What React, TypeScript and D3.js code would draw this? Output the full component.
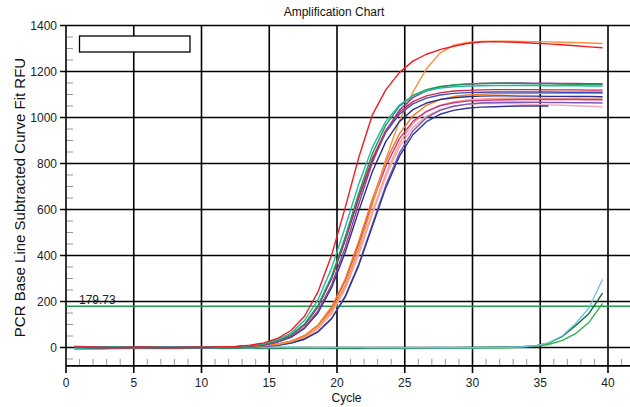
import React from 'react';
import * as d3 from 'd3';

// plotted cycle positions of the points
const CYCLES: number[] = d3.range(0.6, 40, 1);

const X_TICKS = [0, 5, 10, 15, 20, 25, 30, 35, 40];
const Y_TICKS = [0, 200, 400, 600, 800, 1000, 1200, 1400];
const THRESHOLD = 179.73;
const TITLE = 'Amplification Chart';
const X_LABEL = 'Cycle';
const Y_LABEL = 'PCR Base Line Subtracted Curve Fit RFU';

const RED = [2, 1, 0, -1, 0, 1, 0, -1, 0, 1, 1, 3, 5, 10, 20, 39, 74, 136, 242, 401, 607, 825, 1010, 1120, 1195, 1245, 1275, 1295, 1310, 1322, 1328, 1330, 1328, 1326, 1323, 1320, 1316, 1312, 1307, 1303];
const ORANGE_HI = [6, 3, 1, 0, -1, 0, 1, 0, -1, 0, 1, 1, 2, 4, 7, 13, 25, 48, 92, 160, 270, 430, 618, 818, 985, 1110, 1212, 1280, 1314, 1326, 1331, 1332, 1332, 1331, 1330, 1329, 1327, 1326, 1324, 1322];
const TEAL = [-3, -1, 0, 1, 0, -1, 0, 1, 0, 0, 1, 2, 5, 9, 17, 33, 63, 117, 208, 345, 523, 710, 869, 983, 1054, 1094, 1116, 1128, 1134, 1137, 1138, 1139, 1139, 1139, 1139, 1138, 1138, 1138, 1137, 1137];
const GREEN = [0, -1, 0, 1, 0, 0, 1, 0, -1, 0, 1, 2, 4, 8, 15, 29, 55, 102, 183, 309, 480, 670, 841, 967, 1048, 1096, 1121, 1135, 1142, 1146, 1148, 1149, 1149, 1148, 1147, 1146, 1145, 1144, 1143, 1142];
const PURPLE = [1, 0, -1, 0, 1, 0, -1, 0, 0, 1, 1, 2, 3, 7, 13, 24, 47, 87, 159, 273, 434, 623, 802, 940, 1032, 1086, 1116, 1132, 1141, 1145, 1148, 1149, 1150, 1150, 1149, 1149, 1148, 1148, 1147, 1147];
const CRIMSON = [0, 1, 0, -1, 0, 1, 0, 0, -1, 0, 1, 2, 4, 8, 15, 28, 53, 99, 178, 302, 468, 654, 820, 944, 1023, 1069, 1094, 1107, 1115, 1118, 1120, 1121, 1121, 1121, 1121, 1120, 1120, 1120, 1119, 1119];
const BLUE = [-1, 0, 1, 0, -1, 0, 0, 1, 0, -1, 1, 2, 4, 7, 14, 28, 53, 98, 177, 299, 464, 648, 813, 935, 1014, 1059, 1084, 1098, 1105, 1108, 1110, 1111, 1111, 1111, 1111, 1111, 1110, 1110, 1110, 1110];
const NAVY = [0, -1, 0, 1, 0, 0, -1, 0, 1, 0, 1, 2, 3, 6, 12, 23, 44, 83, 151, 260, 413, 593, 763, 895, 982, 1034, 1063, 1078, 1086, 1090, 1093, 1094, 1094, 1093, 1093, 1092, 1092, 1091, 1091, 1090];
const ORANGE = [3, 2, 0, 1, 0, -1, 0, 1, 0, 0, 1, 1, 2, 4, 7, 14, 28, 52, 98, 176, 297, 461, 644, 808, 929, 1007, 1053, 1078, 1091, 1098, 1101, 1103, 1104, 1104, 1105, 1105, 1105, 1105, 1105, 1105];
const MAGENTA = [1, 0, 0, -1, 0, 1, 0, -1, 0, 0, 1, 1, 2, 4, 7, 14, 27, 51, 95, 171, 290, 450, 628, 788, 907, 983, 1027, 1051, 1064, 1071, 1074, 1076, 1077, 1078, 1078, 1078, 1078, 1078, 1077, 1077];
const SALMON = [0, 1, 0, -1, 0, 1, 0, 0, -1, 0, 0, 1, 2, 3, 6, 12, 23, 44, 82, 150, 258, 410, 588, 756, 887, 974, 1025, 1053, 1068, 1076, 1081, 1083, 1084, 1084, 1084, 1084, 1083, 1083, 1082, 1082];
const PINK = [0, 0, 1, 0, -1, 0, 1, 0, 0, -1, 0, 1, 2, 3, 6, 12, 23, 43, 81, 147, 253, 402, 577, 742, 871, 956, 1006, 1034, 1049, 1057, 1061, 1062, 1061, 1059, 1057, 1055, 1053, 1051, 1049, 1047];
const VIOLET = [0, 1, 0, -1, 0, 0, 1, 0, -1, 0, 0, 1, 1, 3, 5, 10, 19, 37, 69, 127, 223, 362, 534, 706, 845, 941, 999, 1031, 1049, 1058, 1063, 1065, 1066, 1066, 1066, 1065, 1065, 1064, 1064, 1063];
const NAVY_LOW: (number | null)[] = [-1, 0, 1, 0, -1, 0, 0, 1, -1, 0, 0, 1, 1, 3, 5, 10, 19, 36, 68, 125, 219, 356, 525, 694, 831, 925, 982, 1014, 1031, 1040, 1045, 1047, 1049, 1050, 1050, 1050, null, null, null, null];
const CYAN_LATE = [1, 0, -1, 0, 0, 1, 0, -1, 0, 0, 0, 1, 0, -1, 0, 0, 1, 0, -1, 0, 0, 0, -1, -1, 0, -1, -1, 0, -1, 0, -1, 0, 1, 3, 7, 20, 50, 103, 172, 297];
const DKGREEN_LATE = [-5, -4, -5, -3, -4, -3, -2, -3, -2, -2, -2, -1, -2, -1, -2, -3, -2, -2, -1, -2, -2, -3, -2, -2, -1, -2, -2, -1, -1, 0, 0, 1, 2, 3, 7, 19, 47, 95, 148, 236];
const GREEN_LATE = [-6, -5, -6, -5, -5, -4, -5, -4, -5, -4, -4, -5, -4, -4, -5, -5, -4, -4, -5, -4, -5, -4, -5, -5, -4, -5, -4, -4, -3, -3, -3, -2, -1, 2, 5, 13, 30, 60, 110, 192];

const SERIES: { color: string; values: (number | null)[] }[] = [
  { color: '#2fb24c', values: GREEN_LATE },
  { color: '#0d6a33', values: DKGREEN_LATE },
  { color: '#6cc6dd', values: CYAN_LATE },
  { color: '#f4a7bd', values: PINK },
  { color: '#f7a286', values: SALMON },
  { color: '#7a5bb8', values: VIOLET },
  { color: '#c8378f', values: MAGENTA },
  { color: '#f47a20', values: ORANGE },
  { color: '#2e3896', values: NAVY_LOW },
  { color: '#f6913c', values: ORANGE_HI },
  { color: '#2b3187', values: NAVY },
  { color: '#3552c2', values: BLUE },
  { color: '#d42746', values: CRIMSON },
  { color: '#8f3ea3', values: PURPLE },
  { color: '#1e9b4c', values: GREEN },
  { color: '#25b7a6', values: TEAL },
  { color: '#ee1c25', values: RED },
];

export default function App() {
  const W = 630;
  const H = 407;
  const x = d3.scaleLinear().domain([0, 40]).range([66, 608]);
  const y = d3.scaleLinear().domain([0, 1400]).range([347.5, 25.5]);
  const left = x(0);
  const right = 630;
  const top = y(1400);
  const bottom = y(-80);
  const font = 'Liberation Sans, Arial, sans-serif';

  const line = d3
    .line<number | null>()
    .defined((v) => v != null)
    .x((_, i) => x(CYCLES[i]))
    .y((v) => y(v as number));

  const minorX = d3.range(1, 42).filter((c) => c % 5 !== 0);
  const minorY = d3.range(-50, 1400, 50).filter((v) => v % 200 !== 0);

  return (
    <div style={{ position: 'absolute', left: 0, top: 0 }}>
      <svg width={W} height={H} style={{ display: 'block', background: '#fff' }}>
        <defs>
          <clipPath id="plot">
            <rect x={left} y={top} width={right - left} height={bottom - top} />
          </clipPath>
        </defs>
        <rect x={0} y={0} width={W} height={H} fill="#fff" />
        <text x={334} y={16} fontFamily={font} fontSize={12} textAnchor="middle" fill="#111">
          {TITLE}
        </text>
        {/* threshold label */}
        <text x={79} y={304} fontFamily={font} fontSize={12} fill="#222">
          {THRESHOLD.toFixed(2)}
        </text>
        {/* minor ticks */}
        {minorX.map((c) => (
          <line key={'mx' + c} x1={x(c)} x2={x(c)} y1={bottom - 7} y2={bottom - 1} stroke="#999" strokeWidth={1} />
        ))}
        {minorY.map((v) => (
          <line key={'my' + v} x1={left + 1} x2={left + 7} y1={y(v)} y2={y(v)} stroke="#999" strokeWidth={1} />
        ))}
        {/* grid */}
        {Y_TICKS.map((v) => (
          <line key={'gy' + v} x1={left - 6} x2={right} y1={y(v)} y2={y(v)} stroke="#000" strokeWidth={1.6} />
        ))}
        {X_TICKS.map((c) => (
          <line key={'gx' + c} x1={x(c)} x2={x(c)} y1={top} y2={bottom + 7} stroke="#000" strokeWidth={1.6} />
        ))}
        <line x1={left} x2={right} y1={bottom} y2={bottom} stroke="#000" strokeWidth={1.6} />
        {/* legend box */}
        <rect x={79.5} y={36} width={110.5} height={16} fill="#fff" stroke="#000" strokeWidth={1.3} />
        {/* threshold */}
        <line x1={left} x2={right} y1={y(THRESHOLD)} y2={y(THRESHOLD)} stroke="#1f9a4a" strokeWidth={1.5} />
        {/* curves */}
        <g clipPath="url(#plot)">
          {SERIES.map((s, i) => (
            <path key={i} d={line(s.values) || ''} fill="none" stroke={s.color} strokeWidth={1.4} strokeLinejoin="round" />
          ))}
        </g>
        {/* tick labels */}
        {Y_TICKS.map((v) => (
          <text key={'ly' + v} x={57} y={y(v) + 4.5} fontFamily={font} fontSize={12} textAnchor="end" fill="#222">
            {v}
          </text>
        ))}
        {X_TICKS.map((c) => (
          <text key={'lx' + c} x={x(c)} y={387} fontFamily={font} fontSize={12} textAnchor="middle" fill="#222">
            {c}
          </text>
        ))}
        <text x={346.5} y={402} fontFamily={font} fontSize={12} textAnchor="middle" fill="#111">
          {X_LABEL}
        </text>
        <text
          transform={`translate(24.5,197.5) rotate(-90)`}
          fontFamily={font}
          fontSize={15}
          textAnchor="middle"
          fill="#111"
        >
          {Y_LABEL}
        </text>
      </svg>
    </div>
  );
}
